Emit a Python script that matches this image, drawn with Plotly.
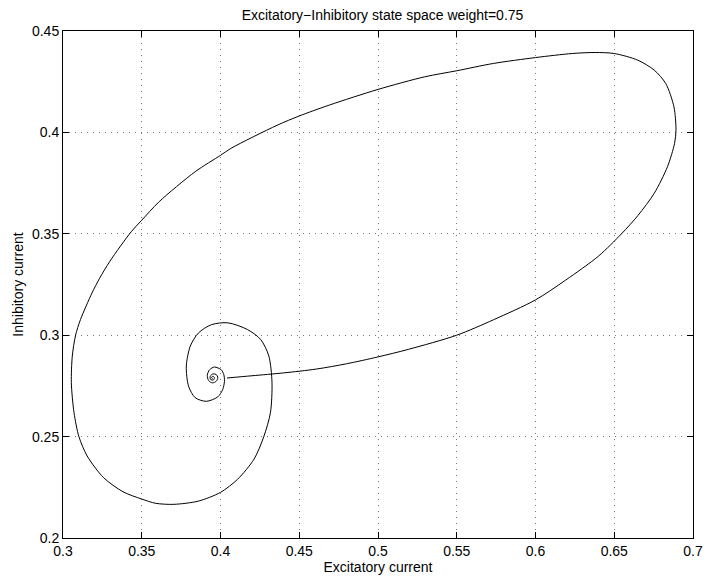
import plotly.graph_objects as go

# Trajectory in the excitatory / inhibitory current plane
exc = [0.4041, 0.4200, 0.4400, 0.4608, 0.4800, 0.5000, 0.5192, 0.5500, 0.5733,
       0.6000, 0.6192, 0.6400, 0.6546, 0.6650, 0.6754, 0.6838, 0.6883, 0.6892,
       0.6879, 0.6827, 0.6754, 0.6650, 0.6500, 0.6379, 0.6233, 0.6000, 0.5733,
       0.5500, 0.5296, 0.5000, 0.4692, 0.4500, 0.4359, 0.4068, 0.4000, 0.3839,
       0.3610, 0.3500, 0.3433, 0.3298, 0.3232, 0.3184, 0.3111, 0.3080, 0.3059,
       0.3053, 0.3070, 0.3101, 0.3153, 0.3257, 0.3381, 0.3500, 0.3589, 0.3704,
       0.3860, 0.4000, 0.4109, 0.4213, 0.4275, 0.4317, 0.4327, 0.4307, 0.4255,
       0.4171, 0.4047, 0.3943, 0.3860, 0.3808, 0.3783, 0.3797, 0.3839, 0.3910,
       0.3983, 0.4014, 0.4025, 0.4021, 0.4004, 0.3962, 0.3931, 0.3916, 0.3925,
       0.3948, 0.3973, 0.3983, 0.3973, 0.3952, 0.3935, 0.3937, 0.3954, 0.3962,
       0.3952, 0.3943, 0.3950]
inh = [0.2789, 0.2800, 0.2814, 0.2833, 0.2859, 0.2893, 0.2930, 0.3000, 0.3076,
       0.3174, 0.3272, 0.3390, 0.3500, 0.3590, 0.3700, 0.3831, 0.3946, 0.4011,
       0.4126, 0.4241, 0.4307, 0.4356, 0.4389, 0.4394, 0.4389, 0.4369, 0.4340,
       0.4304, 0.4274, 0.4212, 0.4135, 0.4081, 0.4035, 0.3922, 0.3887, 0.3806,
       0.3658, 0.3567, 0.3510, 0.3365, 0.3280, 0.3208, 0.3077, 0.3000, 0.2897,
       0.2766, 0.2618, 0.2500, 0.2405, 0.2298, 0.2228, 0.2192, 0.2171, 0.2166,
       0.2182, 0.2225, 0.2290, 0.2389, 0.2500, 0.2618, 0.2766, 0.2897, 0.2979,
       0.3028, 0.3061, 0.3052, 0.3011, 0.2946, 0.2848, 0.2749, 0.2692, 0.2674,
       0.2696, 0.2732, 0.2773, 0.2806, 0.2830, 0.2843, 0.2830, 0.2802, 0.2776,
       0.2765, 0.2773, 0.2790, 0.2806, 0.2809, 0.2798, 0.2782, 0.2779, 0.2790,
       0.2798, 0.2790, 0.2787]

x_ticks = [0.3, 0.35, 0.4, 0.45, 0.5, 0.55, 0.6, 0.65, 0.7]
x_labels = ["0.3", "0.35", "0.4", "0.45", "0.5", "0.55", "0.6", "0.65", "0.7"]
y_ticks = [0.2, 0.25, 0.3, 0.35, 0.4, 0.45]
y_labels = ["0.2", "0.25", "0.3", "0.35", "0.4", "0.45"]

FONT = "Liberation Sans, Arial, Helvetica, sans-serif"
FS = 14

fig = go.Figure()
fig.add_trace(go.Scatter(
    x=exc, y=inh, mode="lines",
    line=dict(color="black", width=1, shape="spline", smoothing=0.8),
    showlegend=False, hoverinfo="skip",
))

axis_common = dict(
    showline=True, linecolor="black", linewidth=1, mirror="allticks",
    ticks="inside", ticklen=6, tickcolor="black", tickwidth=1,
    showgrid=True, gridcolor="rgb(120,120,120)", gridwidth=1,
    griddash="1px,5px", zeroline=False,
    tickfont=dict(family=FONT, size=FS, color="black"),
)

fig.update_layout(
    width=713, height=579,
    margin=dict(l=63, r=10, t=31, b=40),
    paper_bgcolor="white", plot_bgcolor="white",
    title=dict(text="Excitatory\u2212Inhibitory state space weight=0.75",
               x=0.5365, xanchor="center", y=0.9746, yanchor="middle",
               font=dict(family=FONT, size=FS, color="black")),
    xaxis=dict(range=[0.3, 0.7], tickvals=x_ticks, ticktext=x_labels,
               title=dict(text="Excitatory current", standoff=0,
                          font=dict(family=FONT, size=FS, color="black")),
               **axis_common),
    yaxis=dict(range=[0.2, 0.45], tickvals=y_ticks, ticktext=y_labels,
               title=dict(text="Inhibitory current", standoff=5,
                          font=dict(family=FONT, size=FS, color="black")),
               **axis_common),
)

fig.write_html("out.html")
